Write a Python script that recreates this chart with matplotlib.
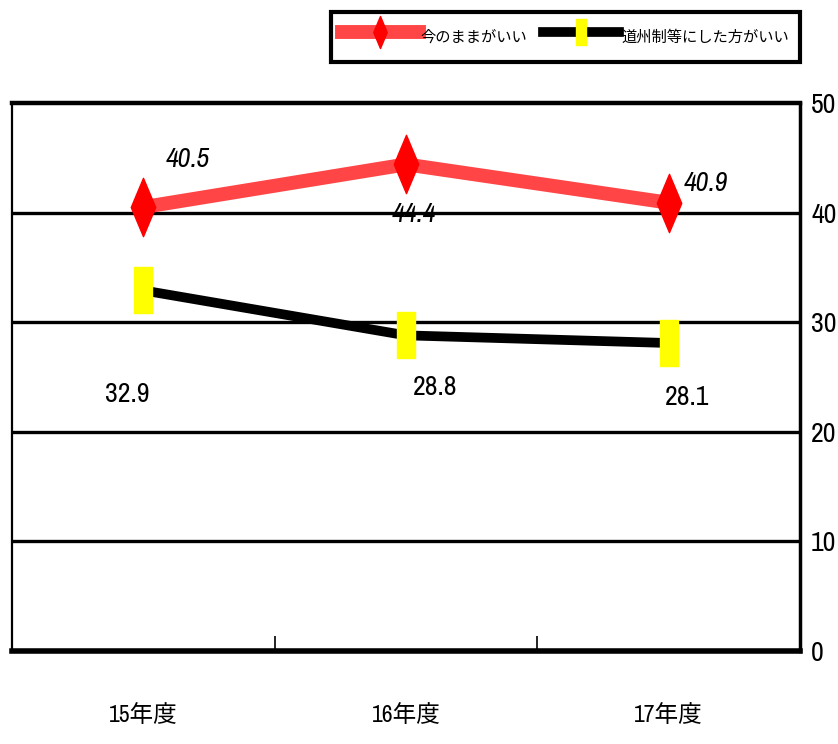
import matplotlib
matplotlib.use("Agg")
import matplotlib.pyplot as plt
from matplotlib.path import Path

# ---- data ----
categories = ["15年度", "16年度", "17年度"]
keep_as_is = [40.5, 44.4, 40.9]
doshu_system = [32.9, 28.8, 28.1]
series_names = ["今のままがいい", "道州制等にした方がいい"]
y_ticks = [0, 10, 20, 30, 40, 50]

fam = ["Archivo Narrow", "Noto Sans CJK JP", "DejaVu Sans"]
plt.rcParams["font.family"] = fam

fig = plt.figure(figsize=(8.38, 7.44), dpi=100)
ax = fig.add_axes([12 / 838, 1 - 651 / 744, 788 / 838, 548 / 744])

x = list(range(len(categories)))

# tall diamond and upright bar markers
diamond = Path([(0, 1), (0.42, 0), (0, -1), (-0.42, 0), (0, 1)],
               [Path.MOVETO, Path.LINETO, Path.LINETO, Path.LINETO, Path.CLOSEPOLY])
rect = Path([(-0.2, -0.5), (0.2, -0.5), (0.2, 0.5), (-0.2, 0.5), (-0.2, -0.5)],
            [Path.MOVETO, Path.LINETO, Path.LINETO, Path.LINETO, Path.CLOSEPOLY])

# horizontal gridlines
for t in y_ticks[1:-1]:
    ax.axhline(t, color="black", lw=2.4, zorder=1)

l1, = ax.plot(x, keep_as_is, color="#ff4545", lw=10, marker=diamond,
              markersize=42, markerfacecolor="#ff0000", markeredgecolor="#ff0000",
              zorder=3, label=series_names[0])
l2, = ax.plot(x, doshu_system, color="black", lw=7, marker=rect,
              markersize=33, markerfacecolor="#ffff00", markeredgecolor="#ffff00",
              zorder=3, label=series_names[1])

# value labels
red_off = [(0.17, 4.3), (0.03, -4.6), (0.14, 1.8)]
blk_off = [(-0.06, -9.5), (0.11, -4.8), (0.07, -5.0)]
for i, (v, (dx, dy)) in enumerate(zip(keep_as_is, red_off)):
    ax.text(i + dx, v + dy, f"{v:.1f}", ha="center", va="center",
            fontsize=20, style="italic", zorder=4)
for i, (v, (dx, dy)) in enumerate(zip(doshu_system, blk_off)):
    ax.text(i + dx, v + dy, f"{v:.1f}", ha="center", va="center",
            fontsize=20, zorder=4)

ax.set_xlim(-0.5, 2.5)
ax.set_ylim(0, 50)

ax.yaxis.tick_right()
ax.set_yticks(y_ticks)
ax.set_yticklabels([str(t) for t in y_ticks], fontsize=20)
ax.tick_params(axis="y", length=0, pad=8)

ax.set_xticks(x)
ax.set_xticklabels(categories, fontsize=17)
ax.tick_params(axis="x", which="major", length=0, pad=38)
ax.set_xticks([0.5, 1.5], minor=True)
ax.tick_params(axis="x", which="minor", direction="in", length=11, width=1.2)

ax.spines["left"].set_linewidth(1.6)
ax.spines["bottom"].set_linewidth(4)
ax.spines["right"].set_linewidth(2.5)
ax.spines["top"].set_linewidth(3.2)
for s in ax.spines.values():
    s.set_color("black")

leg = fig.legend(handles=[l1, l2], loc="upper right",
                 bbox_to_anchor=(800 / 838, 1 - 12 / 744), borderaxespad=0,
                 ncol=2, fontsize=11, frameon=True, fancybox=False, framealpha=1,
                 handlelength=5.0, handleheight=2.5, handletextpad=0.15,
                 columnspacing=1.0, markerscale=0.55, borderpad=0.7)
leg.get_frame().set_edgecolor("black")
leg.get_frame().set_linewidth(3)

fig.savefig("out.png", dpi=100)
